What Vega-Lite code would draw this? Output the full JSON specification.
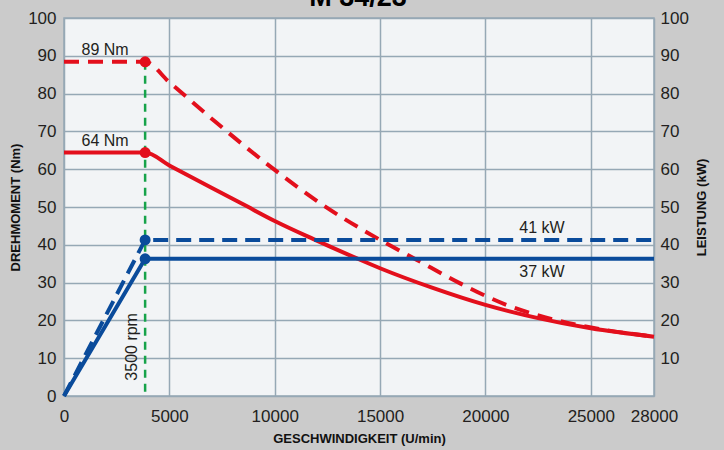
{
  "$schema": "https://vega.github.io/schema/vega-lite/v6.json",
  "width": 590,
  "height": 378,
  "autosize": {"type": "none"},
  "padding": {"left": 64, "top": 18, "right": 70, "bottom": 54},
  "background": "#cbcbcb",
  "config": {
    "view": {"fill": "#f2f4f6", "stroke": "#96a8b5", "strokeWidth": 1.5},
    "axis": {
      "labelFont": "Liberation Sans",
      "labelFontSize": 17,
      "labelColor": "#231f20",
      "titleFont": "Liberation Sans",
      "titleFontSize": 13,
      "titleFontWeight": "bold",
      "titleColor": "#111111",
      "ticks": false,
      "tickSize": 0,
      "domain": false,
      "gridColor": "#96a8b5",
      "gridWidth": 1.5,
      "gridOpacity": 1
    },
    "text": {"font": "Liberation Sans", "fontSize": 16, "color": "#231f20"}
  },
  "datasets": {
    "kurven": [
      {"rpm": 0, "wert": 88.4, "kurve": "M S6"},
      {"rpm": 3850, "wert": 88.4, "kurve": "M S6", "label": "89 Nm"},
      {"rpm": 5000, "wert": 83.0, "kurve": "M S6"},
      {"rpm": 7170, "wert": 72.6, "kurve": "M S6"},
      {"rpm": 10000, "wert": 59.8, "kurve": "M S6"},
      {"rpm": 12400, "wert": 50.1, "kurve": "M S6"},
      {"rpm": 15000, "wert": 41.3, "kurve": "M S6"},
      {"rpm": 16750, "wert": 36.0, "kurve": "M S6"},
      {"rpm": 18800, "wert": 29.8, "kurve": "M S6"},
      {"rpm": 21000, "wert": 24.1, "kurve": "M S6"},
      {"rpm": 23550, "wert": 19.8, "kurve": "M S6"},
      {"rpm": 25770, "wert": 17.4, "kurve": "M S6"},
      {"rpm": 28000, "wert": 15.7, "kurve": "M S6"},
      {"rpm": 0, "wert": 64.4, "kurve": "M S1"},
      {"rpm": 3850, "wert": 64.4, "kurve": "M S1", "label": "64 Nm"},
      {"rpm": 5000, "wert": 61.0, "kurve": "M S1"},
      {"rpm": 7000, "wert": 55.1, "kurve": "M S1"},
      {"rpm": 8500, "wert": 50.7, "kurve": "M S1"},
      {"rpm": 10000, "wert": 46.3, "kurve": "M S1"},
      {"rpm": 11840, "wert": 41.5, "kurve": "M S1"},
      {"rpm": 13900, "wert": 36.4, "kurve": "M S1"},
      {"rpm": 15000, "wert": 33.8, "kurve": "M S1"},
      {"rpm": 17500, "wert": 28.6, "kurve": "M S1"},
      {"rpm": 20000, "wert": 24.1, "kurve": "M S1"},
      {"rpm": 22500, "wert": 20.6, "kurve": "M S1"},
      {"rpm": 25000, "wert": 17.9, "kurve": "M S1"},
      {"rpm": 28000, "wert": 15.7, "kurve": "M S1"},
      {"rpm": 0, "wert": 0, "kurve": "P S6"},
      {"rpm": 3850, "wert": 41.3, "kurve": "P S6"},
      {"rpm": 28000, "wert": 41.3, "kurve": "P S6", "label": "41 kW"},
      {"rpm": 0, "wert": 0, "kurve": "P S1"},
      {"rpm": 3850, "wert": 36.3, "kurve": "P S1"},
      {"rpm": 28000, "wert": 36.3, "kurve": "P S1", "label": "37 kW"}
    ]
  },
  "data": {"name": "kurven"},
  "encoding": {
    "x": {
      "field": "rpm",
      "type": "quantitative",
      "scale": {"domain": [0, 28000], "nice": false, "zero": false},
      "axis": {
        "values": [0, 5000, 10000, 15000, 20000, 25000, 28000],
        "format": "d",
        "labelFlush": false,
        "labelPadding": 12,
        "title": "GESCHWINDIGKEIT (U/min)",
        "titlePadding": 8
      }
    }
  },
  "layer": [
    {
      "encoding": {
        "y": {
          "field": "wert",
          "type": "quantitative",
          "scale": {"domain": [0, 100], "nice": false},
          "axis": {
            "orient": "left",
            "values": [0, 10, 20, 30, 40, 50, 60, 70, 80, 90, 100],
            "labelPadding": 8,
            "title": "DREHMOMENT (Nm)",
            "titlePadding": 5
          }
        }
      },
      "layer": [
        {
          "transform": [{"filter": "datum.kurve == 'M S6'"}],
          "mark": {"type": "line", "color": "#e30f1c", "strokeWidth": 4, "strokeDash": [15, 9], "interpolate": "monotone"}
        },
        {
          "transform": [{"filter": "datum.kurve == 'M S1'"}],
          "mark": {"type": "line", "color": "#e30f1c", "strokeWidth": 4, "interpolate": "monotone"}
        },
        {
          "transform": [{"filter": "datum.kurve == 'M S6' && datum.rpm == 3850"}],
          "mark": {"type": "rule", "color": "#17a34a", "strokeWidth": 2.5, "strokeDash": [8, 6]},
          "encoding": {"y2": {"datum": 0}}
        },
        {
          "transform": [{"filter": "datum.kurve[0] == 'M' && datum.rpm == 3850"}],
          "mark": {"type": "circle", "color": "#e30f1c", "opacity": 1, "size": 120}
        },
        {
          "transform": [{"filter": "datum.kurve[0] == 'M' && datum.rpm == 3850"}],
          "mark": {"type": "text", "align": "center", "baseline": "alphabetic", "dx": -40, "dy": -7},
          "encoding": {"text": {"field": "label"}}
        },
        {
          "transform": [{"filter": "datum.kurve == 'M S6' && datum.rpm == 3850"}],
          "mark": {"type": "text", "text": "3500 rpm", "angle": 270, "align": "center", "baseline": "bottom", "dy": -5},
          "encoding": {"y": {"datum": 13}}
        },
        {
          "transform": [{"filter": "datum.kurve == 'M S6' && datum.rpm == 3850"}],
          "mark": {"type": "text", "text": "M 34/23", "font": "Liberation Sans", "fontSize": 27, "fontWeight": "bold", "color": "#000000", "align": "center", "baseline": "alphabetic"},
          "encoding": {"x": {"datum": 13950}, "y": {"datum": 103.2}}
        }
      ]
    },
    {
      "encoding": {
        "y": {
          "field": "wert",
          "type": "quantitative",
          "scale": {"domain": [0, 100], "nice": false},
          "axis": {
            "orient": "right",
            "values": [10, 20, 30, 40, 50, 60, 70, 80, 90, 100],
            "grid": false,
            "labelPadding": 6,
            "title": "LEISTUNG (kW)",
            "titleAngle": 270,
            "titlePadding": 20
          }
        }
      },
      "layer": [
        {
          "transform": [{"filter": "datum.kurve == 'P S6'"}],
          "mark": {"type": "line", "color": "#0a4b9b", "strokeWidth": 4, "strokeDash": [15, 8]}
        },
        {
          "transform": [{"filter": "datum.kurve == 'P S1'"}],
          "mark": {"type": "line", "color": "#0a4b9b", "strokeWidth": 4}
        },
        {
          "transform": [{"filter": "datum.kurve[0] == 'P' && datum.rpm == 3850"}],
          "mark": {"type": "circle", "color": "#0a4b9b", "opacity": 1, "size": 120}
        },
        {
          "transform": [{"filter": "datum.kurve == 'P S6' && datum.rpm == 28000"}],
          "mark": {"type": "text", "align": "center", "baseline": "alphabetic", "dx": -112, "dy": -7},
          "encoding": {"text": {"field": "label"}}
        },
        {
          "transform": [{"filter": "datum.kurve == 'P S1' && datum.rpm == 28000"}],
          "mark": {"type": "text", "align": "center", "baseline": "alphabetic", "dx": -112, "dy": 18},
          "encoding": {"text": {"field": "label"}}
        }
      ]
    }
  ],
  "resolve": {"scale": {"y": "independent"}}
}
